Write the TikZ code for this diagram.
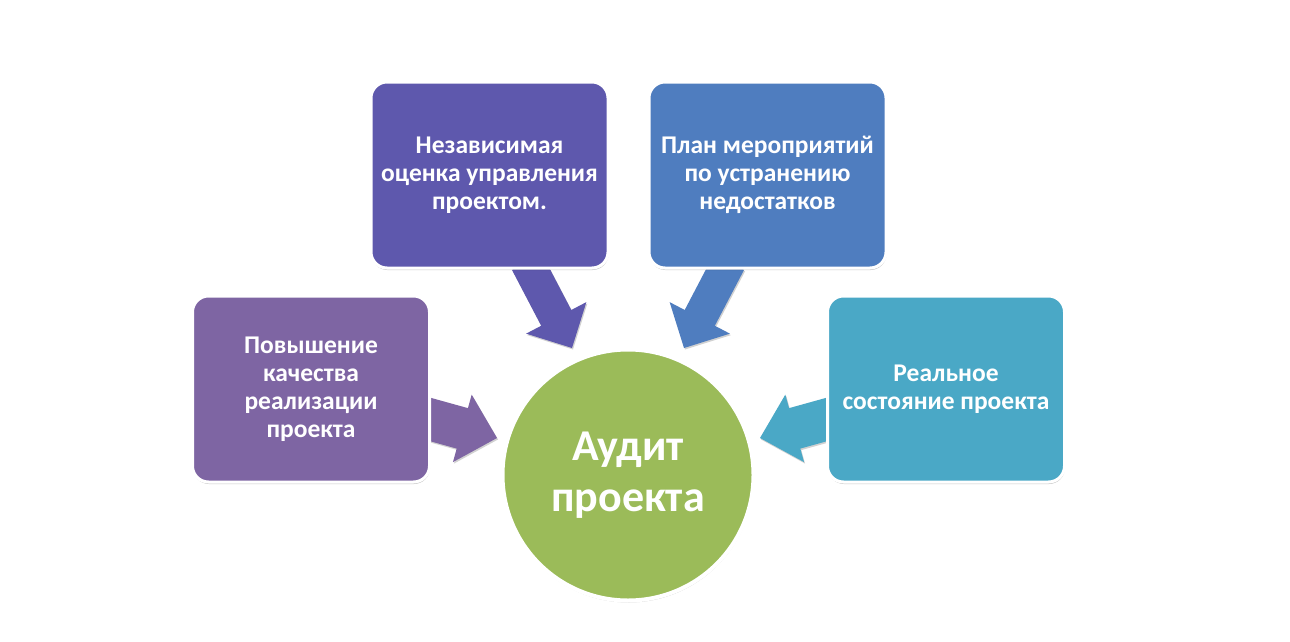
\documentclass[tikz,border=0pt]{standalone}
\usepackage{fontspec}
\setmainfont{Carlito}
\usetikzlibrary{calc,shadows}
\definecolor{cTL}{HTML}{5E58AD}
\definecolor{cTR}{HTML}{4F7DBF}
\definecolor{cL}{HTML}{7E65A3}
\definecolor{cR}{HTML}{4AA8C6}
\definecolor{cC}{HTML}{9BBB59}
\tikzset{
  boxnode/.style={rectangle, rounded corners=16pt, minimum width=237pt, minimum height=186pt,
    draw=white, line width=3pt, text=white, align=center, inner sep=4pt,
    font=\bfseries\fontsize{25.5}{28}\selectfont,
    drop shadow={shadow xshift=0.5pt, shadow yshift=-2pt, opacity=0.22, fill=black}},
  centernode/.style={circle, minimum size=251pt, draw=white, line width=4pt, fill=cC,
    text=white, align=center, font=\bfseries\fontsize{44}{51}\selectfont,
    drop shadow={shadow xshift=0.5pt, shadow yshift=-2pt, opacity=0.22, fill=black}},
  arrowfill/.style={fill=#1, drop shadow={shadow xshift=1pt, shadow yshift=-1.5pt, opacity=0.18, fill=black}}
}
% #1 colour, #2 start coord name, #3 tip coord name, #4 shaft half-width, #5 head half-width, #6 head length
\newcommand\blockarr[6]{%
  \coordinate (#2-b) at ($(#3)!#6!(#2)$);
  \path[arrowfill=#1] ($(#2)!#4!90:(#3)$) -- ($(#2-b)!#4!-90:(#2)$) -- ($(#2-b)!#5!-90:(#2)$) -- (#3)
     -- ($(#2-b)!#5!90:(#2)$) -- ($(#2-b)!#4!90:(#2)$) -- ($(#2)!#4!-90:(#3)$) -- cycle;
}
\begin{document}
\begin{tikzpicture}[x=1pt,y=-1pt]
\useasboundingbox (0,0) rectangle (1290,642);
\fill[white] (0,0) rectangle (1290,642);
% arrow coordinates
\coordinate (aTLs) at (527,262);
\coordinate (aTLt) at (572,348);
\coordinate (aTRs) at (729,262);
\coordinate (aTRt) at (684,348);
\coordinate (aLs) at (425,418);
\coordinate (aLt) at (497,438);
\coordinate (aRs) at (832,418);
\coordinate (aRt) at (760,438);
\blockarr{cTL}{aTLs}{aTLt}{17pt}{34pt}{34pt}
\blockarr{cTR}{aTRs}{aTRt}{17pt}{34pt}{34pt}
\blockarr{cL}{aLs}{aLt}{21pt}{35pt}{36pt}
\blockarr{cR}{aRs}{aRt}{21pt}{35pt}{36pt}
% boxes
\node[boxnode, fill=cTL] (tl) at (489.5,175) {Независимая\\оценка управления\\проектом.};
\node[boxnode, fill=cTR] (tr) at (767.5,175) {План мероприятий\\по устранению\\недостатков};
\node[boxnode, fill=cL] (l) at (311,389) {Повышение\\качества\\реализации\\проекта};
\node[boxnode, fill=cR] (r) at (946,389) {Реальное\\состояние проекта};
% centre
\node[centernode] (c) at (628,475) {Аудит\\проекта};
\end{tikzpicture}
\end{document}
